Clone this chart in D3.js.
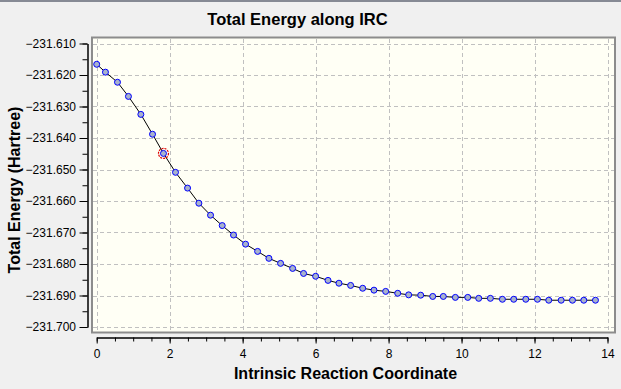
<!doctype html>
<html>
<head>
<meta charset="utf-8">
<style>
  body { margin: 0; background: #f0f0f0; }
  svg { display: block; font-family: "Liberation Sans", Arial, sans-serif; }
  .tick text { font-size: 12px; fill: #000; font-family: "Liberation Sans", Arial, sans-serif; }
</style>
<script src="https://d3js.org/d3.v7.min.js"></script>
</head>
<body>
<svg width="621" height="389"></svg>
<script>
// IRC step coordinate and total energy (Hartree)
var irc = [0, 0.24, 0.57, 0.87, 1.21, 1.53, 1.83, 2.16, 2.49, 2.80,
           3.12, 3.44, 3.75, 4.08, 4.41, 4.72, 5.04, 5.37, 5.67, 6.00,
           6.34, 6.64, 6.96, 7.29, 7.60, 7.92, 8.25, 8.55, 8.88, 9.21,
           9.50, 9.83, 10.17, 10.47, 10.79, 11.12, 11.43, 11.76, 12.08, 12.39,
           12.73, 13.04, 13.35, 13.67];
var energy = [-231.6166, -231.6191, -231.6223, -231.6268, -231.6325, -231.6388, -231.6449, -231.6509, -231.6559, -231.6607,
              -231.6645, -231.6678, -231.6708, -231.6737, -231.6760, -231.6782, -231.6798, -231.6814, -231.6830, -231.6839,
              -231.6852, -231.6861, -231.6868, -231.6877, -231.6883, -231.6887, -231.6893, -231.6898, -231.6899, -231.6903,
              -231.6903, -231.6906, -231.6906, -231.6909, -231.6909, -231.6912, -231.6912, -231.6912, -231.6912, -231.6915,
              -231.6915, -231.6915, -231.6915, -231.6915];
var currentPoint = 6;

var xTicks = [0, 2, 4, 6, 8, 10, 12, 14];
var xMinor = d3.range(0, 14.01, 0.5);
var yTicks = [-231.610, -231.620, -231.630, -231.640, -231.650, -231.660, -231.670, -231.680, -231.690, -231.700];
var yMinor = d3.range(0, 19).map(function(i) { return -231.610 - i * 0.005; });

var svg = d3.select("svg");

// top window strip
svg.append("rect").attr("x", 0).attr("y", 0).attr("width", 621).attr("height", 2).attr("fill", "#868a94");

var x = d3.scaleLinear().domain([0, 14]).range([96.7, 607.5]);
var y = d3.scaleLinear().domain([-231.610, -231.700]).range([43.5, 327]);

// plot frame
svg.append("rect")
   .attr("x", 92).attr("y", 37.5)
   .attr("width", 523).attr("height", 295)
   .attr("fill", "#fffff5")
   .attr("stroke", "#8c8c8c")
   .attr("stroke-width", 2);

// grid
var grid = svg.append("g").attr("stroke", "#c0c0c0").attr("stroke-dasharray", "4,3").attr("stroke-width", 1);
grid.selectAll(".vg").data(xTicks).enter().append("line")
    .attr("x1", function(d) { return Math.round(x(d)) + 0.5; })
    .attr("x2", function(d) { return Math.round(x(d)) + 0.5; })
    .attr("y1", 39).attr("y2", 331);
grid.selectAll(".hg").data(yTicks).enter().append("line")
    .attr("y1", function(d) { return Math.round(y(d)) + 0.5; })
    .attr("y2", function(d) { return Math.round(y(d)) + 0.5; })
    .attr("x1", 93).attr("x2", 614);

// line + markers
var line = d3.line()
    .x(function(d, i) { return x(irc[i]); })
    .y(function(d) { return y(d); });

svg.append("path")
   .datum(energy)
   .attr("d", line)
   .attr("fill", "none")
   .attr("stroke", "#000")
   .attr("stroke-width", 1);

svg.selectAll(".pt")
   .data(energy)
   .enter().append("circle")
   .attr("class", "pt")
   .attr("cx", function(d, i) { return x(irc[i]); })
   .attr("cy", function(d) { return y(d); })
   .attr("r", 3)
   .attr("fill", "#a8b2cc")
   .attr("stroke", "#0000ff")
   .attr("stroke-width", 1);

svg.append("circle")
   .attr("cx", x(irc[currentPoint]))
   .attr("cy", y(energy[currentPoint]))
   .attr("r", 5)
   .attr("fill", "none")
   .attr("stroke", "#e00000")
   .attr("stroke-width", 1.2)
   .attr("stroke-dasharray", "2,1");

// y axis
svg.append("g")
   .attr("transform", "translate(87.5,0)")
   .call(d3.axisLeft(y).tickValues(yMinor).tickSize(5).tickSizeOuter(0).tickFormat(""));
svg.append("g")
   .attr("transform", "translate(87.5,0)")
   .call(d3.axisLeft(y).tickValues(yTicks).tickSize(8).tickSizeOuter(0).tickPadding(3.5).tickFormat(d3.format(".3f")));

// x axis
svg.append("g")
   .attr("transform", "translate(0,337.5)")
   .call(d3.axisBottom(x).tickValues(xMinor).tickSize(4).tickSizeOuter(0).tickFormat(""));
svg.append("g")
   .attr("transform", "translate(0,337.5)")
   .call(d3.axisBottom(x).tickValues(xTicks).tickSize(6).tickSizeOuter(0).tickPadding(6).tickFormat(d3.format("d")));

svg.selectAll(".domain").attr("stroke", "#000");

// titles
svg.append("text")
   .attr("x", 297.5).attr("y", 25)
   .attr("text-anchor", "middle")
   .attr("font-size", "16.5px").attr("font-weight", "bold")
   .text("Total Energy along IRC");

svg.append("text")
   .attr("x", 345.5).attr("y", 379)
   .attr("text-anchor", "middle")
   .attr("font-size", "16px").attr("font-weight", "bold")
   .text("Intrinsic Reaction Coordinate");

svg.append("text")
   .attr("transform", "translate(20,190) rotate(-90)")
   .attr("text-anchor", "middle")
   .attr("font-size", "16px").attr("font-weight", "bold")
   .text("Total Energy (Hartree)");
</script>
</body>
</html>
